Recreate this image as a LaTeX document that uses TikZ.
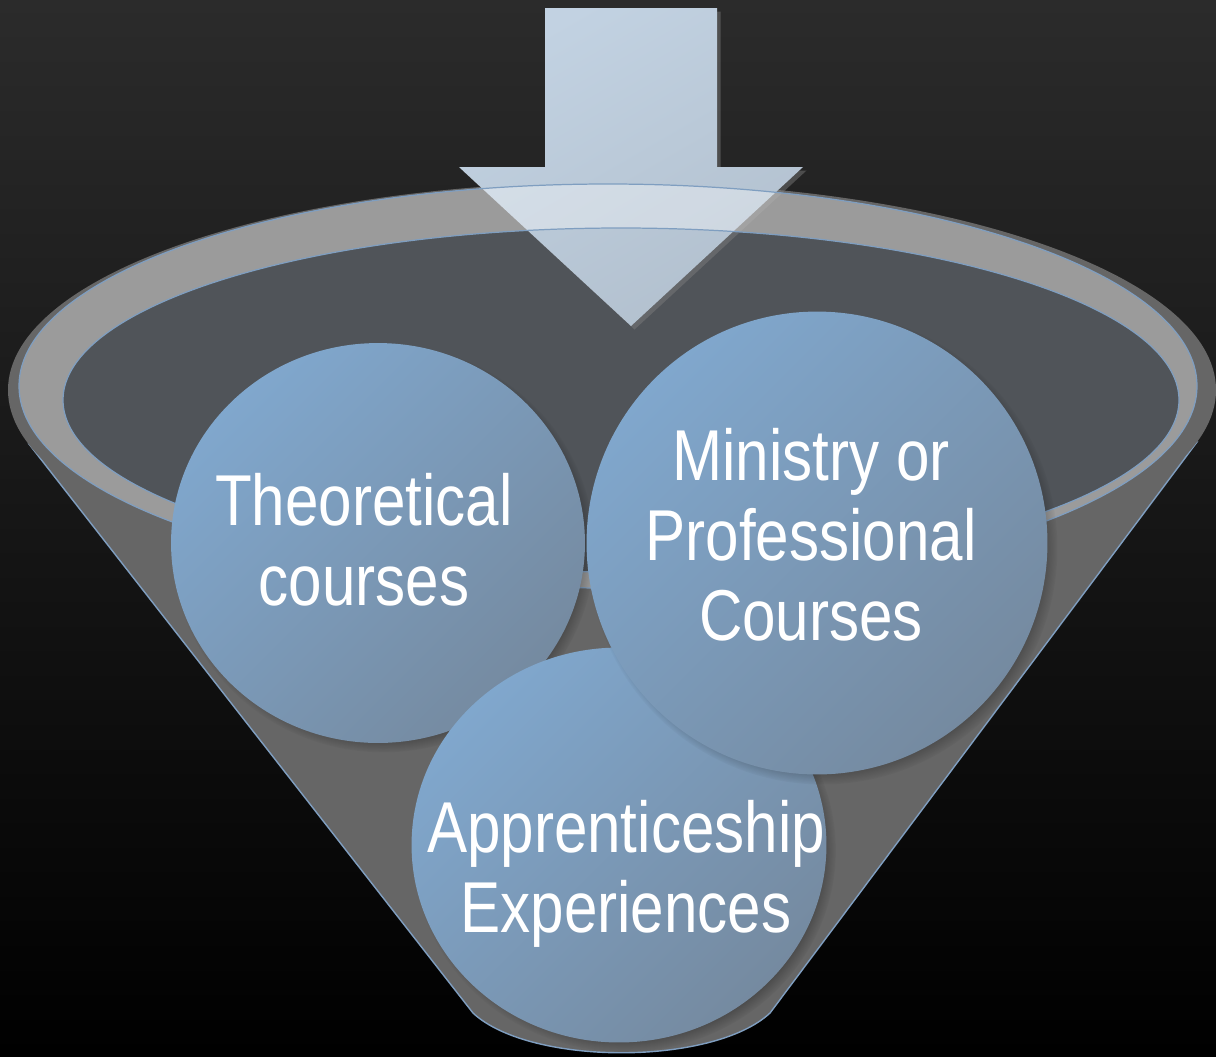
\documentclass[tikz,border=0pt]{standalone}
\usepackage{fontspec}
\setmainfont[FakeStretch=0.835]{Liberation Sans}
\usetikzlibrary{calc,shapes,shadows,backgrounds}
\definecolor{bgtop}{RGB}{43,43,43}
\definecolor{bgmid}{RGB}{12,12,12}
\definecolor{rimblue}{RGB}{127,158,192}
\definecolor{conegray}{RGB}{102,102,102}
\definecolor{bowlgray}{RGB}{80,84,89}
\definecolor{balltop}{RGB}{128,167,205}
\definecolor{ballbot}{RGB}{117,138,160}
\definecolor{arrowtop}{RGB}{194,210,226}
\definecolor{arrowbot}{RGB}{178,192,206}
\tikzset{
  ball/.style={ellipse,inner sep=0pt,top color=balltop,bottom color=ballbot,shading angle=45,
    circular drop shadow={shadow xshift=3pt,shadow yshift=-3pt,shadow scale=1.02,opacity=.6,fill=black}},
  txt/.style={inner sep=0pt,align=center,text=white,font=\fontsize{41}{45.5}\selectfont}
}

\begin{document}
\begin{tikzpicture}[x=0.02cm,y=-0.02cm]
  \useasboundingbox (0,0) rectangle (1216,1056);
  \shade[top color=bgtop,middle color=bgmid,bottom color=black] (0,0) rectangle (1216,1056);
  % funnel body
  \fill[conegray,draw=rimblue,line width=0.8pt]
    (29,444) -- (473,1013) .. controls (530,1066) and (713,1066) .. (770,1013) -- (1197,442) -- cycle;
  \fill[conegray] (612,390) ellipse [x radius=604, y radius=208];
  \fill[bowlgray] (621,400) ellipse [x radius=558, y radius=172];
  % arrow
  \shade[top color=arrowtop,bottom color=arrowbot,shading angle=30,
    drop shadow={shadow xshift=2pt,shadow yshift=-2pt,opacity=.45}]
    (545,8) -- (717,8) -- (717,167) -- (803,167) -- (631,326) -- (459,167) -- (545,167) -- cycle;
  % rim
  \fill[white,opacity=.35,even odd rule]
    (608,386) ellipse [x radius=589, y radius=202] (621,400) ellipse [x radius=558, y radius=172];
  \draw[rimblue,line width=0.7pt]
    (608,386) ellipse [x radius=589, y radius=202] (621,400) ellipse [x radius=558, y radius=172];
  % balls
  \node[ball,minimum width=8.28cm,minimum height=8cm] (th) at (378,543) {};
  \node[ball,minimum width=8.3cm,minimum height=7.9cm] (ap) at (619,845) {};
  \node[ball,minimum width=9.22cm,minimum height=9.26cm] (mp) at (817,543) {};
  \node[txt] (thtext) at (364,540) {Theoretical\\courses};
  \node[txt] (aptext) at (626,874) {Apprenticeship\\Experiences};
  \node[txt] (mptext) at (811,535) {Ministry or\\Professional\\Courses};
\end{tikzpicture}
\end{document}
